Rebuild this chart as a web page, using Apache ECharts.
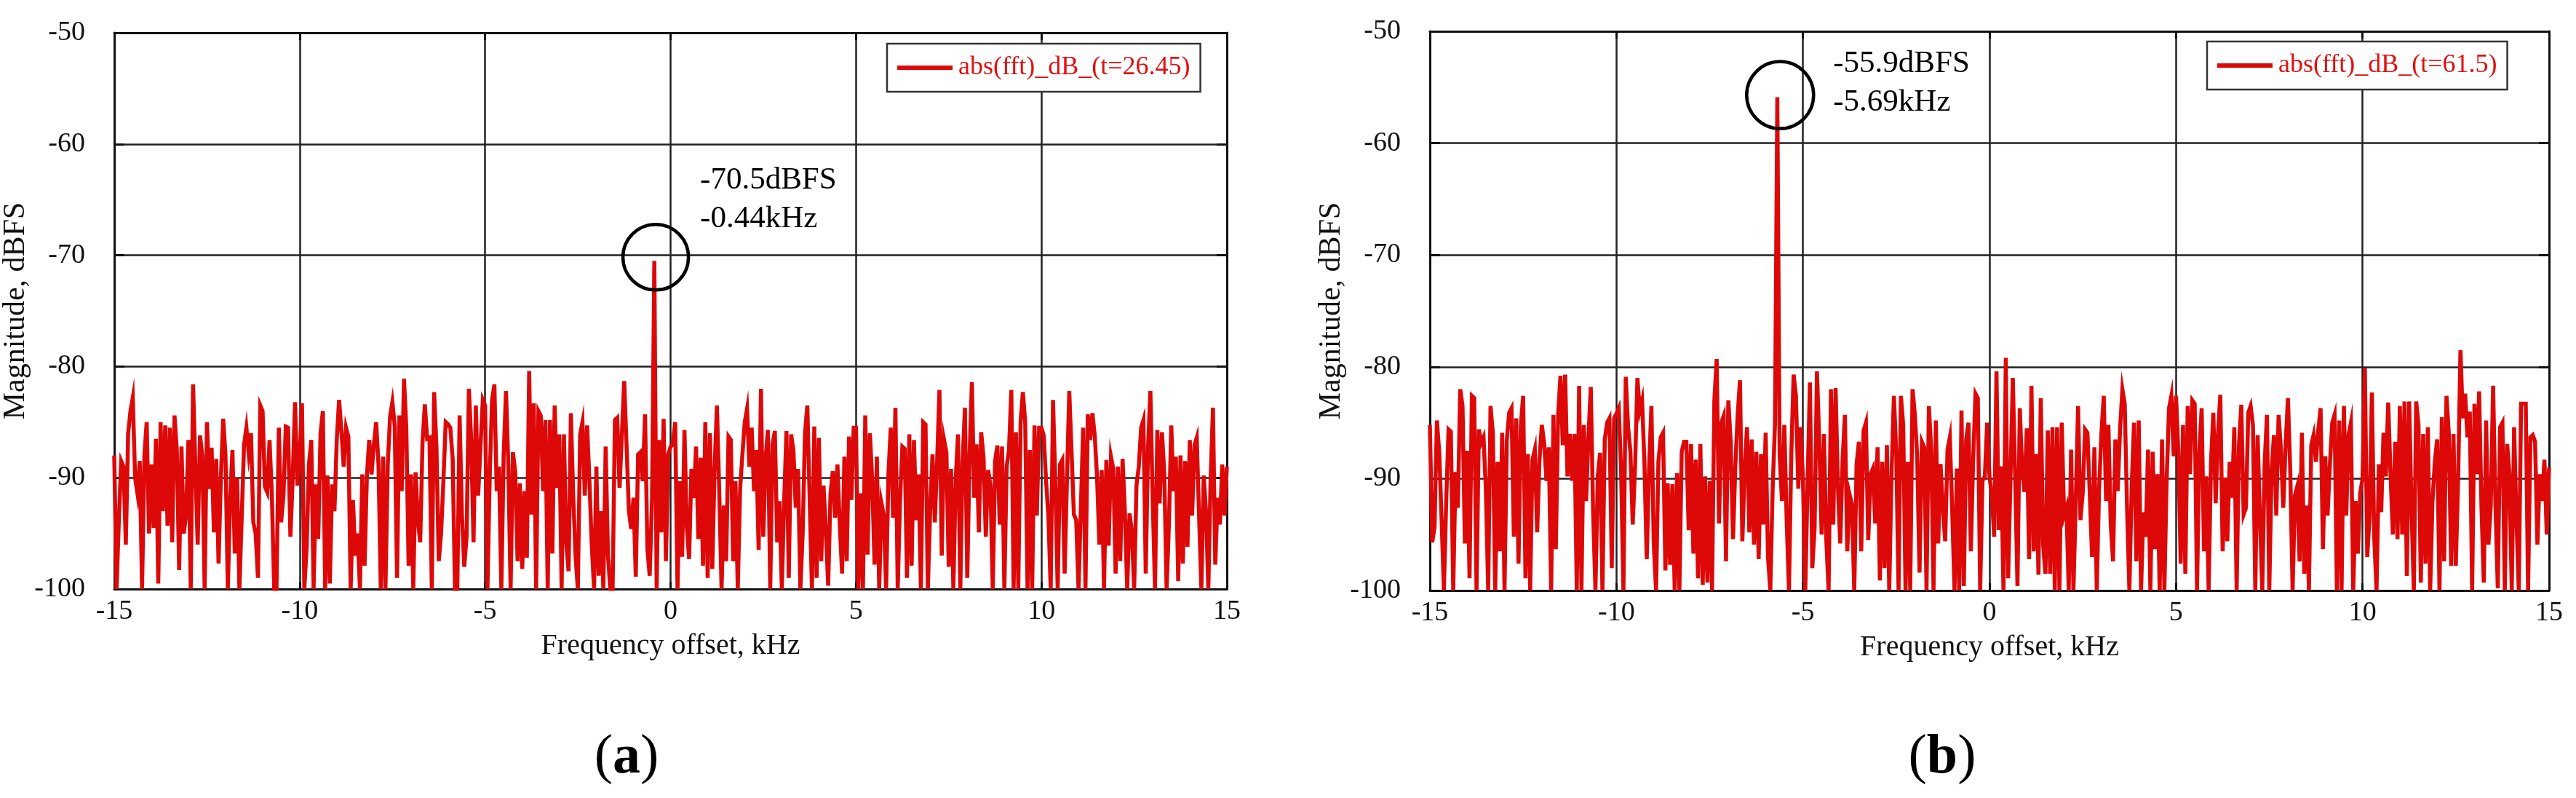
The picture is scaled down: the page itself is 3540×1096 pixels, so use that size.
<!DOCTYPE html>
<html>
<head>
<meta charset="utf-8">
<script src="https://cdn.jsdelivr.net/npm/echarts@6/dist/echarts.min.js"></script>
<style>
html,body{margin:0;padding:0;background:#fff;}
#chart{width:3540px;height:1096px;}
</style>
</head>
<body>
<div id="chart"></div>
<script>
// ---------------- data ----------------
const FREQ_START = -15;      // kHz, first FFT bin
const FREQ_STEP = 0.0625;    // kHz, bin spacing
const xTicks = [-15, -10, -5, 0, 5, 10, 15];
const yTicks = [-100, -90, -80, -70, -60, -50];

const nameA = 'abs(fft)_dB_(t=26.45)';
const nameB = 'abs(fft)_dB_(t=61.5)';

// panel (a) magnitudes, dBFS
const magA = [
-88,-100,-93.8,-88.5,-89,-96,-86,-84,-82.8,-90,-91.4,-88.5,-100,-88,-85,-95,-88.8,-94.5,-86.5,-99.5,-85,-93,-85.3,-94.3,-85.5,-95.8,-84.4,-87.5,-98.3,-87.2,-95,-93.3,-86.6,-100,-81.6,-89,-96,-86.2,-88,-100,-85,-91,-87.3,-94.9,-88.3,-97.7,-90,-84.7,-88,-100,-92,-87.5,-96.8,-90,-100,-93.5,-87,-85.5,-87.8,-86,-94,-95,-99,-83.5,-84,-90.8,-91.3,-86.6,-91.6,-100,-100,-85.5,-94,-91.6,-85.4,-85.5,-95.3,-90,-83.2,-90.7,
-88,-83.3,-100,-96.3,-88.8,-86.6,-100,-90.6,-95.5,-86,-84,-100,-89.8,-99.5,-90.6,-93,-86.6,-83,-85.8,-89,-85.5,-86.3,-100,-92,-97,-95,-100,-89.7,-97.9,-89.8,-86.6,-89.7,-87,-85,-88.8,-100,-88.1,-100,-88.8,-84.5,-83.2,-85.3,-99,-84.4,-91.2,-81.1,-85.5,-97.9,-89.7,-100,-89.5,-93.8,-95.8,-86.8,-83.4,-86.5,-86.4,-100,-82.3,-87.2,-97.5,-95,-90.3,-85,-85.2,-85.5,-88.3,-100,-100,-84.4,-93.4,-98,-95.3,-82,-86.6,-95.8,-83.5,-91.6,-87.2,-83,
-83.5,-100,-89.8,-83,-81.6,-91.2,-89,-100,-88,-82.2,-88.8,-100,-87.7,-89.5,-97.5,-90.5,-98.2,-91.2,-97.2,-80.4,-93.3,-83.3,-100,-84,-84.4,-91.2,-84.8,-100,-84.8,-96.8,-83.5,-90.9,-86.1,-100,-86.1,-95.8,-98.4,-84.2,-91.6,-97,-100,-86.1,-85,-91.6,-85.3,-90.3,-96,-100,-89,-98.8,-93,-100,-87.2,-97,-100,-100,-84.8,-84.6,-90.9,-86.1,-81.3,-87,-92.9,-94.6,-91.8,-98.9,-87.9,-87.7,-90.3,-84.3,-96.4,-98.8,-92,-70.5,-100,-86.6,-94.9,-84.7,-97.5,-87.9,
-87.2,-87,-85,-100,-90.3,-97.1,-85.7,-94.4,-97.3,-89.2,-91.8,-87.2,-95.5,-88.2,-97.9,-85,-99,-86,-98.2,-89.2,-83.5,-91.2,-100,-92.5,-97.5,-86.3,-86.6,-97.5,-90.3,-100,-91,-87.9,-85,-83.8,-89,-85.5,-91.2,-87.5,-96.5,-82,-95.3,-88.3,-85.7,-100,-87,-85.8,-95.8,-92.1,-100,-92.1,-85.8,-99,-86.1,-87.5,-92.7,-89.2,-100,-95,-86,-83.5,-91.8,-100,-85.4,-99,-86.4,-97.5,-90.7,-94.7,-99.7,-91.4,-89.4,-93.6,-88.8,-94.2,-98.6,-88.1,-97.5,-86.3,-92,-85.5,
-85.5,-100,-91.4,-100,-84.4,-96.9,-86,-90.3,-97.8,-88.1,-100,-92.3,-93.4,-100,-89.6,-85.5,-93.6,-83.7,-100,-92,-87.2,-87.4,-99,-86.1,-97.9,-86.6,-93.8,-89.7,-100,-85,-85.2,-100,-92.9,-87.9,-94,-88.5,-82.1,-97,-86.6,-87.7,-98,-89.2,-100,-90.2,-86.1,-100,-88.5,-83.7,-99,-88,-81.4,-91.8,-87,-94.9,-85.9,-88.1,-95.3,-89.3,-90.7,-100,-88.5,-87.1,-94.2,-87.2,-100,-89,-87.5,-82.1,-100,-85.9,-100,-85,-82.3,-85,-100,-87.5,-100,-85.3,-93.4,-85.5,
-85.5,-86.2,-90.3,-93.4,-100,-83,-90.5,-100,-88.8,-88.4,-98.6,-90.3,-82.2,-87.7,-93.3,-93.8,-100,-92.7,-85.5,-100,-84.3,-86.6,-84.2,-86.2,-90,-96,-89.3,-100,-88.4,-96.1,-88.1,-89.2,-98.6,-89,-97.5,-88.3,-93,-100,-93.2,-94.8,-100,-90.7,-89,-85.5,-84.8,-98.6,-87.2,-82.2,-92,-100,-85.7,-92.3,-85.9,-89.6,-100,-94.2,-85.3,-91.2,-88.1,-99.3,-88,-97.7,-88.5,-96.2,-86.6,-93.4,-87.1,-86.4,-93.4,-100,-89.8,-93,-100,-90,-83.7,-97.8,-91.8,-94.2,-88.8,-93.4,-89
];

// panel (b) magnitudes, dBFS
const magB = [
-85.2,-95.7,-94.3,-84.8,-87.6,-93.5,-100,-92,-85.6,-85.8,-100,-89.4,-92.6,-82,-83.5,-95.8,-87.5,-98.9,-82.6,-82.8,-100,-85.6,-86.8,-86.3,-90.9,-100,-83.5,-85.9,-100,-88.5,-96.5,-85.9,-100,-86.5,-84.1,-83.7,-95.2,-84.6,-97.6,-85.2,-82.6,-98.9,-87.8,-100,-88.3,-87.4,-94.8,-88.3,-85.2,-86.8,-90.2,-87.2,-100,-84.3,-96.3,-84.3,-80.8,-87,-80.7,-89.8,-86,-90.2,-86,-100,-81.7,-100,-85.2,-92,-86.3,-81.8,-93,-100,-89.8,-87.7,-100,-86.5,-85,-84.6,-98,-84.6,
-84.2,-83.7,-89.3,-100,-80.9,-85.4,-87.6,-94.1,-88.9,-81,-83.9,-83,-88.5,-97.2,-89,-83.5,-95.8,-100,-88.5,-86.3,-85.9,-98.2,-90.4,-97.7,-90.5,-100,-89.5,-100,-87.6,-86.7,-86.7,-94.6,-86.9,-96.7,-88.3,-98.9,-86.9,-99.5,-89.8,-99.3,-90.2,-100,-83,-79.3,-94,-85,-84.4,-97.4,-83,-86.7,-95.4,-88.9,-84.3,-81.2,-95.6,-89.3,-85.4,-94.8,-86.5,-95.9,-87.6,-97.2,-87.8,-94.1,-85.9,-97,-100,-90.9,-85.2,-55.9,-87.8,-92,-85.2,-93.6,-100,-87.8,-80.7,-82.6,-90.9,-85.4,
-90,-100,-90.2,-81.4,-98,-94.4,-80.4,-86.7,-95,-86,-95.4,-100,-82,-94.1,-81.9,-90.8,-95.8,-88.3,-84.3,-96.5,-91.4,-92.3,-100,-88.7,-86.7,-96.5,-85.7,-85,-95.5,-89.6,-89.1,-94,-87.2,-99.1,-88.5,-98,-87,-100,-89.6,-82.6,-87.6,-100,-82.6,-85.2,-100,-88.5,-100,-82,-84.3,-88,-98.4,-86.7,-87.2,-100,-83.5,-87.4,-100,-84.8,-95.8,-88.7,-92.6,-95.6,-87.4,-86.3,-92.8,-100,-89.1,-100,-83.9,-99.6,-86.5,-85,-96.5,-88.3,-82.4,-82.8,-100,-90.2,-89.8,-85,
-89.8,-91.5,-95.2,-80.4,-94.6,-88.9,-100,-79.2,-98.9,-90,-81,-89.8,-99.6,-83.7,-89.1,-91.2,-85.5,-97.2,-81.7,-96.5,-87.8,-98.6,-82.8,-95.9,-98.5,-85.7,-98.5,-85.4,-100,-85.4,-100,-85,-93.3,-92.6,-100,-87.4,-100,-92,-83.5,-93.7,-91.3,-85.6,-85.9,-91.3,-97,-87.2,-100,-90.9,-86,-82.6,-92,-85.2,-94.1,-97.4,-86.5,-91.1,-85.6,-82,-83.3,-92.6,-100,-90.7,-85,-97.4,-84.8,-100,-93,-95.2,-87.4,-100,-87.6,-96.3,-89.6,-100,-86.5,-100,-90,-83.7,-82.6,-88,
-82.6,-87.6,-97.6,-85.2,-98.5,-83.5,-89.6,-83,-83.3,-100,-87.6,-83.7,-96.5,-89.8,-100,-88.5,-84.1,-92.2,-86,-82.5,-96.5,-89.9,-95.6,-88.5,-91.7,-85.4,-100,-87,-83.4,-93.2,-92.6,-84.1,-83.5,-85.2,-100,-86.1,-93.5,-100,-88.7,-84.3,-100,-89.3,-86.1,-93.3,-84.3,-87.4,-92.6,-87,-82.8,-89.3,-100,-91.5,-90.7,-97.4,-85.9,-98.5,-92.4,-100,-87,-86.1,-88.5,-85.7,-83.7,-96.3,-88,-93.3,-88.7,-85,-84.3,-100,-84.8,-100,-83.5,-93.3,-86.1,-85,-100,-92,-96.7,-91.3,
-90,-80.1,-97,-93.5,-82.3,-95.2,-100,-88.7,-93,-85.9,-89.8,-83.2,-89.6,-95,-86.7,-95.4,-83.5,-95,-83.1,-98.7,-83.1,-92.7,-100,-83.1,-85.2,-99.3,-86,-97.6,-85.4,-100,-92,-88.5,-86.5,-100,-84.5,-97.4,-82.6,-86,-97.8,-86,-97.8,-90,-78.5,-84.6,-82.4,-86.3,-84,-100,-83.3,-89.6,-82.2,-92.5,-99.3,-84.8,-95.9,-92.4,-81.7,-92.4,-99.8,-85.4,-85,-100,-86.9,-89.6,-100,-85.4,-93.5,-100,-83.3,-83.3,-83.3,-100,-86.3,-86.1,-86.7,-95.9,-89.6,-92,-88.3,-95,-89
];

// annotated peaks [kHz, dBFS] and their texts
const peakA = [-0.44, -70.5];
const peakB = [-5.69, -55.9];
const peakTextA = ['-70.5dBFS', '-0.44kHz'];
const peakTextB = ['-55.9dBFS', '-5.69kHz'];

const xName = 'Frequency offset, kHz';
const yName = 'Magnitude, dBFS';
const captions = ['a', 'b'];

// ---------------- chart ----------------
const RED = '#dd0808';
const FONT = '"Liberation Serif", "Times New Roman", serif';
const INK = '#111';

function toPairs(mags) {
  return mags.map((v, i) => [FREQ_START + i * FREQ_STEP, v]);
}

function xAxes(gridIndex) {
  const common = {
    gridIndex: gridIndex, type: 'value',
    min: xTicks[0], max: xTicks[xTicks.length - 1], interval: xTicks[1] - xTicks[0],
    axisLine: {show: true, onZero: false, lineStyle: {color: INK, width: 3}},
    axisTick: {show: true, inside: true, length: 10, lineStyle: {color: INK, width: 3}}
  };
  return [
    Object.assign({}, common, {
      position: 'bottom',
      name: xName, nameLocation: 'middle', nameGap: 58,
      nameTextStyle: {color: INK, fontFamily: FONT, fontSize: 40},
      axisLabel: {show: true, color: INK, fontFamily: FONT, fontSize: 38, margin: 12},
      splitLine: {show: true, lineStyle: {color: '#222', width: 2.5}}
    }),
    Object.assign({}, common, {
      position: 'top',
      axisLabel: {show: false},
      splitLine: {show: false}
    })
  ];
}

function yAxes(gridIndex, gap) {
  const common = {
    gridIndex: gridIndex, type: 'value',
    min: yTicks[0], max: yTicks[yTicks.length - 1], interval: yTicks[1] - yTicks[0],
    axisLine: {show: true, onZero: false, lineStyle: {color: INK, width: 3}},
    axisTick: {show: true, inside: true, length: 14, lineStyle: {color: INK, width: 3}}
  };
  return [
    Object.assign({}, common, {
      position: 'left',
      name: yName, nameLocation: 'middle', nameGap: gap,
      nameTextStyle: {color: INK, fontFamily: FONT, fontSize: 42},
      axisLabel: {show: true, color: INK, fontFamily: FONT, fontSize: 38, margin: 40},
      splitLine: {show: true, lineStyle: {color: '#222', width: 2.5}}
    }),
    Object.assign({}, common, {
      position: 'right',
      axisLabel: {show: false},
      splitLine: {show: false}
    })
  ];
}

function makeSeries(name, mags, axisIdx, peak, text, circleOffset, labelPos, circleSize) {
  return {
    type: 'line', name: name,
    xAxisIndex: axisIdx, yAxisIndex: axisIdx,
    data: toPairs(mags),
    showSymbol: false, symbol: 'none',
    lineStyle: {color: RED, width: 5.5, join: 'miter'},
    itemStyle: {color: RED},
    clip: true, silent: true, animation: false,
    z: 3,
    markPoint: {
      silent: true, animation: false, z: 5,
      data: [
        {coord: peak, symbol: 'circle', symbolSize: circleSize, symbolOffset: circleOffset,
         itemStyle: {color: 'rgba(0,0,0,0)', borderColor: '#000', borderWidth: 4.5},
         label: {show: false}},
        {coord: peak, symbol: 'circle', symbolSize: 2,
         itemStyle: {color: 'rgba(0,0,0,0)'},
         label: {show: true, formatter: text.join('\n'), position: labelPos,
                 color: '#000', fontFamily: FONT, fontSize: 43, lineHeight: 53,
                 align: 'left', verticalAlign: 'top'}}
      ]
    }
  };
}

function legendFor(name, left, top) {
  return {
    data: [name], left: left, top: top, orient: 'horizontal',
    padding: [15, 14, 15, 14],
    backgroundColor: '#fff', borderColor: '#333', borderWidth: 2.5, borderRadius: 0,
    icon: 'rect', itemWidth: 76, itemHeight: 6, itemGap: 8,
    textStyle: {color: '#e01010', fontFamily: FONT, fontSize: 36, padding: [0, 0, 0, 3]},
    selectedMode: false, z: 6
  };
}

const chart = echarts.init(document.getElementById('chart'), null, {renderer: 'canvas'});
chart.setOption({
  animation: false,
  backgroundColor: '#fff',
  grid: [
    {left: 157, top: 45, width: 1529, height: 764, containLabel: false},
    {left: 1965, top: 43, width: 1538, height: 768, containLabel: false}
  ],
  xAxis: [].concat(xAxes(0), xAxes(1)),
  yAxis: [].concat(yAxes(0, 106), yAxes(1, 109)),
  legend: [legendFor(nameA, 1219, 60), legendFor(nameB, 3033, 57)],
  series: [
    makeSeries(nameA, magA, 0, peakA, peakTextA, [2, -5], [64, -136], 90),
    makeSeries(nameB, magB, 2, peakB, peakTextB, [4, -3], [78, -71], 92)
  ],
  graphic: [
    {type: 'text', x: 861, y: 1041, silent: true,
     style: {text: '{p|(}{b|' + captions[0] + '}{p|)}', align: 'center', verticalAlign: 'middle',
             rich: {p: {fontFamily: FONT, fontSize: 76, fill: '#000', fontWeight: 'normal'},
                    b: {fontFamily: FONT, fontSize: 76, fill: '#000', fontWeight: 'bold'}}}},
    {type: 'text', x: 2669, y: 1041, silent: true,
     style: {text: '{p|(}{b|' + captions[1] + '}{p|)}', align: 'center', verticalAlign: 'middle',
             rich: {p: {fontFamily: FONT, fontSize: 76, fill: '#000', fontWeight: 'normal'},
                    b: {fontFamily: FONT, fontSize: 76, fill: '#000', fontWeight: 'bold'}}}}
  ]
});
</script>
</body>
</html>
